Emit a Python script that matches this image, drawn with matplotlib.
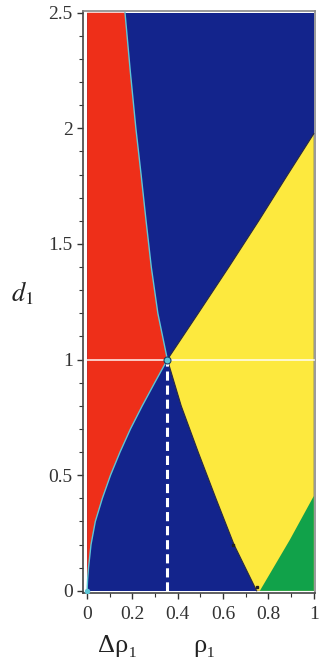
import matplotlib
matplotlib.use("Agg")
import matplotlib.pyplot as plt
import numpy as np

plt.rcParams['font.family'] = ['Liberation Serif', 'DejaVu Serif']
plt.rcParams['mathtext.fontset'] = 'stix'

# red / blue boundary (rho as a function of d)
rb_d = [0, 0.02, 0.05, 0.1, 0.2, 0.3, 0.4, 0.5, 0.6, 0.7, 0.8, 0.9, 1.0,
        1.2, 1.4, 1.6, 1.8, 2.0, 2.25, 2.5]
rb_rho = [0, 0.0005, 0.002, 0.006, 0.017, 0.036, 0.067, 0.103, 0.145, 0.191, 0.243, 0.298, 0.354,
          0.312, 0.283, 0.26, 0.238, 0.215, 0.19, 0.167]

# blue / yellow boundary, below and above the crossing point
by_low_d = [0, 0.2, 0.4, 0.6, 0.8, 1.0]
by_low_rho = [0.748, 0.648, 0.568, 0.49, 0.415, 0.354]
by_up_d = [1.0, 1.2, 1.4, 1.6, 1.8, 1.977]
by_up_rho = [0.354, 0.49, 0.625, 0.757, 0.885, 1.0]

# yellow / green boundary
yg_d = [0, 0.22, 0.41]
yg_rho = [0.762, 0.894, 1.0]

rho_c, d_c = 0.354, 1.0   # crossing point
rho_max, d_max = 1.0, 2.5

c_red = '#ee2f19'
c_blue = '#13248c'
c_yellow = '#fde93e'
c_green = '#11a24a'
c_cyan = '#5cc6d6'

fig = plt.figure(figsize=(3.22, 6.61), dpi=100)
ax = fig.add_axes([0.258, 0.103, 0.720, 0.8805])

# blue background of the data area
ax.fill([0, rho_max, rho_max, 0], [0, 0, d_max, d_max], color=c_blue, lw=0, zorder=1)

# red region, left of the boundary
ax.fill(list(rb_rho) + [0, 0], list(rb_d) + [d_max, 0], color=c_red, lw=0, zorder=2)

# yellow region
ylw_rho = list(by_low_rho) + list(by_up_rho[1:]) + [rho_max, rho_max]
ylw_d = list(by_low_d) + list(by_up_d[1:]) + [0, 0]
ax.fill(ylw_rho, ylw_d, color=c_yellow, lw=0, zorder=2)

# green region
ax.fill(list(yg_rho) + [rho_max], list(yg_d) + [0], color=c_green, lw=0, zorder=3)

# boundaries
ax.plot(rb_rho, rb_d, color=c_cyan, lw=1.0, zorder=4)
ax.plot(by_low_rho, by_low_d, color='#2a2a40', lw=0.8, zorder=4)
ax.plot(by_up_rho, by_up_d, color='#2a2a40', lw=0.8, zorder=4)

# horizontal line d = 1 and dashed vertical line
ax.plot([0, rho_max], [d_c, d_c], color='white', lw=1.3, alpha=0.8, zorder=5)
ax.plot([rho_c, rho_c], [0, d_c], color='white', lw=2.2, ls=(0, (3, 1.6)), zorder=5)

# points
ax.plot([rho_c], [d_c], 'o', ms=5, color=c_cyan, mec='#1a3a60', mew=0.8, zorder=6)
ax.plot([0], [0], 'o', ms=4, color=c_cyan, mew=0, zorder=6)
ax.plot([0.645, 0.748], [0.2, 0.015], 's', ms=2, color='#222222', zorder=6)

ax.set_xlim(-0.018, 1.005)
ax.set_ylim(-0.009, 2.508)

ax.set_xticks(np.arange(0, 1.01, 0.2))
ax.set_xticks(np.arange(0, 1.01, 0.1), minor=True)
ax.set_yticks(np.arange(0, 2.51, 0.5))
ax.set_yticks(np.arange(0, 2.51, 0.1), minor=True)
ax.xaxis.set_major_formatter(matplotlib.ticker.FormatStrFormatter('%g'))
ax.yaxis.set_major_formatter(matplotlib.ticker.FormatStrFormatter('%g'))
ax.tick_params(which='major', direction='out', length=4.5, width=1, color='#333333',
               labelsize=14, labelcolor='#333333', pad=3)
ax.tick_params(which='minor', direction='out', length=3, width=0.8, color='#333333')
ax.tick_params(axis='x', which='major', pad=5)

for side in ['left', 'bottom']:
    ax.spines[side].set_color('#444444')
for side in ['top', 'right']:
    ax.spines[side].set_color('#888888')
for s in ax.spines.values():
    s.set_linewidth(1.2)

fig.text(0.068, 0.557, r'$d_1$', fontsize=19, ha='center', va='center', color='#222222')
fig.text(0.366, 0.022, 'Δρ₁', fontsize=19, ha='center', va='center', color='#222222')
fig.text(0.634, 0.022, 'ρ₁', fontsize=19, ha='center', va='center', color='#222222')

plt.savefig('out.png', dpi=100)
plt.close(fig)
